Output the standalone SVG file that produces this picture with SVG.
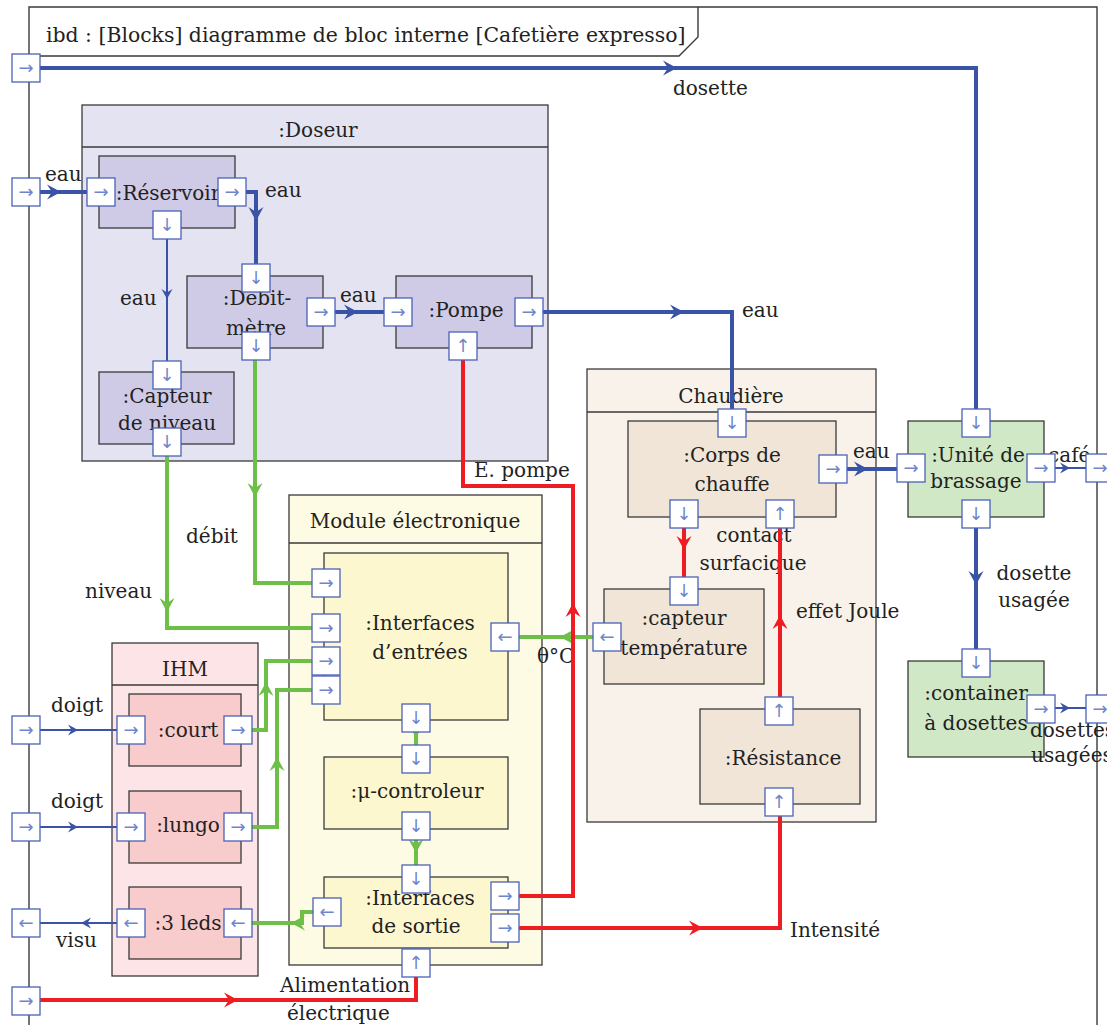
<svg xmlns="http://www.w3.org/2000/svg" xmlns:xlink="http://www.w3.org/1999/xlink" width="1107" height="1025" viewBox="0 0 1107 1025">
<style>
text{font-family:"DejaVu Serif","Liberation Serif",serif;font-size:20px;fill:#222}
.c{text-anchor:middle}
.frame{fill:none;stroke:#3a3a3a;stroke-width:1.4}
.bx{stroke:#3a3a3a;stroke-width:1.3}
.doseur{fill:#e4e3f2}.dsub{fill:#cfcbe6}
.chaud{fill:#f8f2ea}.csub{fill:#f1e5d8}
.mod{fill:#fefbe4}.msub{fill:#fdf7d0}
.ihm{fill:#fde4e6}.isub{fill:#f8cbcc}
.grn{fill:#d1e8c6}
.hd{stroke:#3a3a3a;stroke-width:1.3}
.ln{fill:none;stroke-linejoin:miter}
.b4{stroke:#3953a6;stroke-width:4}
.b2{stroke:#3953a6;stroke-width:2}
.r4{stroke:#ee1d23;stroke-width:4}
.g4{stroke:#6dbf48;stroke-width:4}
.pt rect{fill:#fff;stroke:#4a62b5;stroke-width:1.3}
.pt text{font-family:"DejaVu Sans",sans-serif;font-size:18px;fill:#6f86cc;text-anchor:middle}
</style>
<defs>
<path id="ah" d="M0,0 L-14,-7.5 L-9,0 L-14,7.5 Z"/>
<path id="ahs" d="M0,0 L-10,-5.5 L-6.5,0 L-10,5.5 Z"/>
</defs>
<rect width="1107" height="1025" fill="#fff"/>
<g id="frame">
<path class="frame" d="M29,1025 V7 H1097 V1025"/>
<path class="frame" d="M29,56 H679 L698,37 V7"/>
<text x="46" y="42" style="font-size:20.4px">ibd : [Blocks] diagramme de bloc interne [Cafetière expresso]</text>
</g>
<g id="doseur">
<rect class="bx doseur" x="82" y="105" width="466" height="356"/>
<line class="hd" x1="82" y1="147" x2="548" y2="147"/>
<text class="c" x="318" y="137">:Doseur</text>
</g>
<g id="chaudiere">
<rect class="bx chaud" x="587" y="369" width="289" height="453"/>
<line class="hd" x1="587" y1="412" x2="876" y2="412"/>
<text class="c" x="731" y="403">Chaudière</text>
</g>
<g id="module">
<rect class="bx mod" x="289" y="495" width="253" height="470"/>
<line class="hd" x1="289" y1="543" x2="542" y2="543"/>
<text class="c" x="415" y="528">Module électronique</text>
</g>
<g id="ihm">
<rect class="bx ihm" x="112" y="643" width="146" height="333"/>
<line class="hd" x1="112" y1="685" x2="258" y2="685"/>
<text class="c" x="185" y="676">IHM</text>
</g>
<g id="reservoir"><rect class="bx dsub" x="99" y="156" width="136" height="72"/><text class="c" x="168" y="200">:Réservoir</text></g>
<g id="debitmetre"><rect class="bx dsub" x="187" y="276" width="136" height="72"/><text class="c" x="257" y="305">:Débit-</text><text class="c" x="256" y="335">mètre</text></g>
<g id="pompe"><rect class="bx dsub" x="396" y="276" width="136" height="72"/><text class="c" x="466" y="317">:Pompe</text></g>
<g id="capteur-niveau"><rect class="bx dsub" x="99" y="372" width="135" height="72"/><text class="c" x="167" y="403">:Capteur</text><text class="c" x="167" y="430">de niveau</text></g>
<g id="interfaces-entrees"><rect class="bx msub" x="324" y="553" width="184" height="167"/><text class="c" x="420" y="630">:Interfaces</text><text class="c" x="420" y="659">d’entrées</text></g>
<g id="microcontroleur"><rect class="bx msub" x="324" y="757" width="184" height="72"/><text class="c" x="417" y="798">:μ-controleur</text></g>
<g id="interfaces-sortie"><rect class="bx msub" x="324" y="877" width="184" height="71"/><text class="c" x="420" y="905">:Interfaces</text><text class="c" x="416" y="933">de sortie</text></g>
<g id="court"><rect class="bx isub" x="129" y="694" width="112" height="72"/><text class="c" x="188" y="737">:court</text></g>
<g id="lungo"><rect class="bx isub" x="129" y="791" width="112" height="72"/><text class="c" x="188" y="832">:lungo</text></g>
<g id="leds"><rect class="bx isub" x="129" y="887" width="112" height="72"/><text class="c" x="188" y="930">:3 leds</text></g>
<g id="corps-chauffe"><rect class="bx csub" x="628" y="421" width="208" height="96"/><text class="c" x="732" y="462">:Corps de</text><text class="c" x="732" y="491">chauffe</text></g>
<g id="capteur-temperature"><rect class="bx csub" x="604" y="589" width="160" height="95"/><text class="c" x="684" y="625">:capteur</text><text class="c" x="684" y="655">température</text></g>
<g id="resistance"><rect class="bx csub" x="700" y="709" width="160" height="95"/><text class="c" x="783" y="765">:Résistance</text></g>
<g id="unite-brassage"><rect class="bx grn" x="908" y="421" width="136" height="96"/><text class="c" x="978" y="462">:Unité de</text><text class="c" x="976" y="488">brassage</text></g>
<g id="container"><rect class="bx grn" x="908" y="661" width="136" height="96"/><text class="c" x="976" y="700">:container</text><text class="c" x="976" y="730">à dosettes</text></g>

<g id="connectors">
<g id="labels">
<text x="673" y="95">dosette</text>
<text x="45" y="181">eau</text>
<text x="265" y="197">eau</text>
<text x="120" y="305">eau</text>
<text x="340" y="302">eau</text>
<text x="742" y="317">eau</text>
<text x="853" y="458">eau</text>
<text x="1048" y="462">café</text>
<text class="c" x="1034" y="580">dosette</text>
<text class="c" x="1034" y="607">usagée</text>
<text x="1030" y="737">dosettes</text>
<text x="1031" y="762">usagées</text>
<text x="474" y="477">E. pompe</text>
<text x="186" y="543">débit</text>
<text x="85" y="598">niveau</text>
<text x="537" y="663">θ°C</text>
<text class="c" x="754" y="542">contact</text>
<text class="c" x="753" y="570">surfacique</text>
<text x="796" y="618">effet Joule</text>
<text x="51" y="712">doigt</text>
<text x="51" y="808">doigt</text>
<text x="56" y="947">visu</text>
<text x="790" y="937">Intensité</text>
<text x="280" y="992">Alimentation</text>
<text x="287" y="1020">électrique</text>
</g>
<g fill="#3953a6">
<path class="ln b4" d="M26,68 H976 V423"/><use href="#ah" transform="translate(677,68)"/>
<path class="ln b4" d="M26,192 H101"/><use href="#ah" transform="translate(61,192)"/>
<path class="ln b4" d="M232,192 H256 V278"/><use href="#ah" transform="translate(256,221) rotate(90)"/>
<path class="ln b4" d="M321,312 H398"/><use href="#ah" transform="translate(358,312)"/>
<path class="ln b4" d="M529,312 H732 V423"/><use href="#ah" transform="translate(684,312)"/>
<path class="ln b4" d="M833,469 H911"/><use href="#ah" transform="translate(868,469)"/>
<path class="ln b4" d="M976,514 V663"/><use href="#ah" transform="translate(976,585) rotate(90)"/>
<path class="ln b2" d="M167,225 V375"/><use href="#ahs" transform="translate(167,299) rotate(90)"/>
<path class="ln b2" d="M1041,468 H1100"/><use href="#ahs" transform="translate(1070,468)"/>
<path class="ln b2" d="M1041,708 H1100"/><use href="#ahs" transform="translate(1070,708)"/>
<path class="ln b2" d="M26,730 H131"/><use href="#ahs" transform="translate(78,730)"/>
<path class="ln b2" d="M26,827 H131"/><use href="#ahs" transform="translate(78,827)"/>
<path class="ln b2" d="M131,923 H26"/><use href="#ahs" transform="translate(81,923) rotate(180)"/>
</g>
<g fill="#6dbf48">
<path class="ln g4" d="M167,442 V628 H326"/><use href="#ah" transform="translate(167,612) rotate(90)"/>
<path class="ln g4" d="M255,346 V583 H326"/><use href="#ah" transform="translate(255,497) rotate(90)"/>
<path class="ln g4" d="M238,730 H266 V661 H326"/><use href="#ah" transform="translate(266,682) rotate(-90)"/>
<path class="ln g4" d="M238,827 H277 V690 H326"/><use href="#ah" transform="translate(277,757) rotate(-90)"/>
<path class="ln g4" d="M327,912 H302 V923 H238"/><use href="#ah" transform="translate(291,923) rotate(180)"/>
<path class="ln g4" d="M607,637 H505"/><use href="#ah" transform="translate(560,637) rotate(180)"/>
<path class="ln g4" d="M416,718 V759"/><use href="#ah" transform="translate(416,738) rotate(90)"/>
<path class="ln g4" d="M416,826 V879"/><use href="#ah" transform="translate(416,853) rotate(90)"/>
</g>
<g fill="#ee1d23">
<path class="ln r4" d="M505,896 H573 V486 H463 V346"/><use href="#ah" transform="translate(573,603) rotate(-90)"/>
<path class="ln r4" d="M505,928 H780 V802"/><use href="#ah" transform="translate(703,928)"/>
<path class="ln r4" d="M26,1000 H416 V963"/><use href="#ah" transform="translate(238,1000)"/>
<path class="ln r4" d="M684,514 V591"/><use href="#ah" transform="translate(684,550) rotate(90)"/>
<path class="ln r4" d="M780,711 V514"/><use href="#ah" transform="translate(780,615) rotate(-90)"/>
</g>
</g>

<g id="ports" class="pt">
<g><rect x="12" y="54" width="28" height="28"/><text x="26" y="74">→</text></g>
<g><rect x="12" y="178" width="28" height="28"/><text x="26" y="198">→</text></g>
<g><rect x="12" y="716" width="28" height="28"/><text x="26" y="736">→</text></g>
<g><rect x="12" y="813" width="28" height="28"/><text x="26" y="833">→</text></g>
<g><rect x="12" y="909" width="28" height="28"/><text x="26" y="929">←</text></g>
<g><rect x="12" y="987" width="28" height="28"/><text x="26" y="1007">→</text></g>
<g><rect x="1086" y="454" width="28" height="28"/><text x="1100" y="474">→</text></g>
<g><rect x="1086" y="695" width="28" height="28"/><text x="1100" y="715">→</text></g>
<g><rect x="87" y="178" width="28" height="28"/><text x="101" y="198">→</text></g>
<g><rect x="218" y="178" width="28" height="28"/><text x="232" y="198">→</text></g>
<g><rect x="153" y="211" width="28" height="28"/><text x="167" y="231">↓</text></g>
<g><rect x="242" y="264" width="28" height="28"/><text x="256" y="284">↓</text></g>
<g><rect x="242" y="332" width="28" height="28"/><text x="256" y="352">↓</text></g>
<g><rect x="307" y="298" width="28" height="28"/><text x="321" y="318">→</text></g>
<g><rect x="384" y="298" width="28" height="28"/><text x="398" y="318">→</text></g>
<g><rect x="515" y="298" width="28" height="28"/><text x="529" y="318">→</text></g>
<g><rect x="449" y="332" width="28" height="28"/><text x="463" y="352">↑</text></g>
<g><rect x="153" y="361" width="28" height="28"/><text x="167" y="381">↓</text></g>
<g><rect x="153" y="428" width="28" height="28"/><text x="167" y="448">↓</text></g>
<g><rect x="312" y="569" width="28" height="28"/><text x="326" y="589">→</text></g>
<g><rect x="312" y="614" width="28" height="28"/><text x="326" y="634">→</text></g>
<g><rect x="312" y="647" width="28" height="28"/><text x="326" y="667">→</text></g>
<g><rect x="312" y="676" width="28" height="28"/><text x="326" y="696">→</text></g>
<g><rect x="491" y="623" width="28" height="28"/><text x="505" y="643">←</text></g>
<g><rect x="402" y="704" width="28" height="28"/><text x="416" y="724">↓</text></g>
<g><rect x="402" y="745" width="28" height="28"/><text x="416" y="765">↓</text></g>
<g><rect x="402" y="812" width="28" height="28"/><text x="416" y="832">↓</text></g>
<g><rect x="402" y="865" width="28" height="28"/><text x="416" y="885">↓</text></g>
<g><rect x="491" y="882" width="28" height="28"/><text x="505" y="902">→</text></g>
<g><rect x="491" y="914" width="28" height="28"/><text x="505" y="934">→</text></g>
<g><rect x="313" y="898" width="28" height="28"/><text x="327" y="918">←</text></g>
<g><rect x="402" y="949" width="28" height="28"/><text x="416" y="969">↑</text></g>
<g><rect x="117" y="716" width="28" height="28"/><text x="131" y="736">→</text></g>
<g><rect x="224" y="716" width="28" height="28"/><text x="238" y="736">→</text></g>
<g><rect x="117" y="813" width="28" height="28"/><text x="131" y="833">→</text></g>
<g><rect x="224" y="813" width="28" height="28"/><text x="238" y="833">→</text></g>
<g><rect x="117" y="909" width="28" height="28"/><text x="131" y="929">←</text></g>
<g><rect x="224" y="909" width="28" height="28"/><text x="238" y="929">←</text></g>
<g><rect x="718" y="409" width="28" height="28"/><text x="732" y="429">↓</text></g>
<g><rect x="819" y="455" width="28" height="28"/><text x="833" y="475">→</text></g>
<g><rect x="670" y="500" width="28" height="28"/><text x="684" y="520">↓</text></g>
<g><rect x="766" y="500" width="28" height="28"/><text x="780" y="520">↑</text></g>
<g><rect x="670" y="577" width="28" height="28"/><text x="684" y="597">↓</text></g>
<g><rect x="593" y="623" width="28" height="28"/><text x="607" y="643">←</text></g>
<g><rect x="765" y="697" width="28" height="28"/><text x="779" y="717">↑</text></g>
<g><rect x="765" y="788" width="28" height="28"/><text x="779" y="808">↑</text></g>
<g><rect x="962" y="409" width="28" height="28"/><text x="976" y="429">↓</text></g>
<g><rect x="897" y="454" width="28" height="28"/><text x="911" y="474">→</text></g>
<g><rect x="1027" y="454" width="28" height="28"/><text x="1041" y="474">→</text></g>
<g><rect x="962" y="500" width="28" height="28"/><text x="976" y="520">↓</text></g>
<g><rect x="962" y="649" width="28" height="28"/><text x="976" y="669">↓</text></g>
<g><rect x="1027" y="695" width="28" height="28"/><text x="1041" y="715">→</text></g>
</g>
</svg>
